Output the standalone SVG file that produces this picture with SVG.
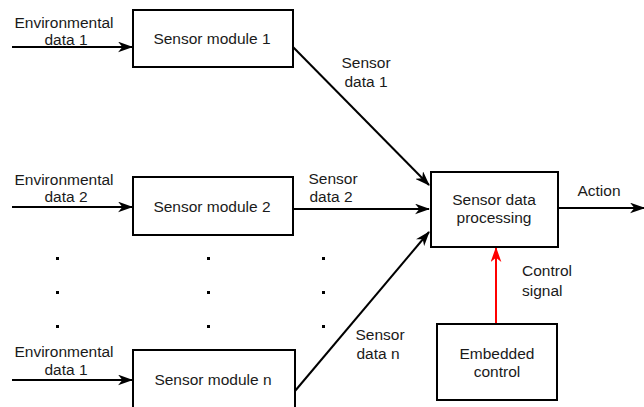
<svg xmlns="http://www.w3.org/2000/svg" width="644" height="407" viewBox="0 0 644 407">
  <style>
    .box { fill: #ffffff; stroke: #000000; stroke-width: 2; }
    .lbl { font-family: "Liberation Sans", Arial, sans-serif; font-size: 15.5px; fill: #1a1a1a; text-anchor: middle; }
    .left { text-anchor: start; }
    .wire { fill: none; stroke: #000000; stroke-width: 2; }
    .ctrl { fill: none; stroke: #ff0000; stroke-width: 2; }
    .dot { fill: #000000; }
  </style>
  <defs>
    <marker id="arrowBlack" viewBox="0 0 14 10" refX="13" refY="5" markerWidth="15" markerHeight="11" markerUnits="userSpaceOnUse" orient="auto">
      <path d="M0,0 L14,5 L0,10 L4,5 Z" fill="#000000"/>
    </marker>
    <marker id="arrowRed" viewBox="0 0 14 10" refX="13" refY="5" markerWidth="15" markerHeight="11" markerUnits="userSpaceOnUse" orient="auto">
      <path d="M0,0 L14,5 L0,10 L4,5 Z" fill="#ff0000"/>
    </marker>
  </defs>

  <!-- connectors -->
  <g id="connectors">
    <line class="wire" x1="12" y1="47" x2="132" y2="47" marker-end="url(#arrowBlack)"/>
    <line class="wire" x1="12" y1="207" x2="132" y2="207" marker-end="url(#arrowBlack)"/>
    <line class="wire" x1="12" y1="380" x2="132" y2="380" marker-end="url(#arrowBlack)"/>
    <line class="wire" x1="293" y1="47" x2="429" y2="185" marker-end="url(#arrowBlack)"/>
    <line class="wire" x1="293" y1="209" x2="429" y2="209" marker-end="url(#arrowBlack)"/>
    <line class="wire" x1="295" y1="391" x2="429" y2="232" marker-end="url(#arrowBlack)"/>
    <line class="wire" x1="558" y1="208" x2="644" y2="208" marker-end="url(#arrowBlack)"/>
    <line class="ctrl" x1="496" y1="324" x2="496" y2="248" marker-end="url(#arrowRed)"/>
  </g>

  <!-- input labels -->
  <g id="inputs">
    <text class="lbl" x="64" y="28">Environmental</text>
    <text class="lbl" x="66" y="45">data 1</text>
    <text class="lbl" x="64" y="185">Environmental</text>
    <text class="lbl" x="66" y="202">data 2</text>
    <text class="lbl" x="64" y="357">Environmental</text>
    <text class="lbl" x="66" y="375">data 1</text>
  </g>

  <!-- connector labels -->
  <g id="edge-labels">
    <text class="lbl" x="366" y="68">Sensor</text>
    <text class="lbl" x="366" y="87">data 1</text>
    <text class="lbl" x="333" y="184">Sensor</text>
    <text class="lbl" x="331" y="202">data 2</text>
    <text class="lbl" x="380" y="340">Sensor</text>
    <text class="lbl" x="378" y="359">data n</text>
    <text class="lbl" x="599" y="196">Action</text>
    <text class="lbl left" x="522" y="276">Control</text>
    <text class="lbl left" x="522" y="296">signal</text>
  </g>

  <g id="sensor-module-1">
    <rect class="box" x="133" y="10" width="160" height="57"/>
    <text class="lbl" x="212" y="44">Sensor module 1</text>
  </g>
  <g id="sensor-module-2">
    <rect class="box" x="133" y="177" width="160" height="58"/>
    <text class="lbl" x="212" y="212">Sensor module 2</text>
  </g>
  <g id="sensor-module-n">
    <rect class="box" x="133" y="350" width="162" height="60"/>
    <text class="lbl" x="213" y="385">Sensor module n</text>
  </g>
  <g id="sensor-data-processing">
    <rect class="box" x="431" y="172" width="127" height="75"/>
    <text class="lbl" x="494" y="205">Sensor data</text>
    <text class="lbl" x="494" y="223">processing</text>
  </g>
  <g id="embedded-control">
    <rect class="box" x="437" y="324" width="120" height="76"/>
    <text class="lbl" x="497" y="359">Embedded</text>
    <text class="lbl" x="497" y="377">control</text>
  </g>

  <!-- ellipsis dots between module rows -->
  <g id="ellipsis">
    <rect class="dot" x="56" y="257" width="3" height="3"/>
    <rect class="dot" x="56" y="291" width="3" height="3"/>
    <rect class="dot" x="56" y="325" width="3" height="3"/>
    <rect class="dot" x="207" y="257" width="3" height="3"/>
    <rect class="dot" x="207" y="291" width="3" height="3"/>
    <rect class="dot" x="207" y="325" width="3" height="3"/>
    <rect class="dot" x="322" y="257" width="3" height="3"/>
    <rect class="dot" x="322" y="291" width="3" height="3"/>
    <rect class="dot" x="322" y="325" width="3" height="3"/>
  </g>
</svg>
